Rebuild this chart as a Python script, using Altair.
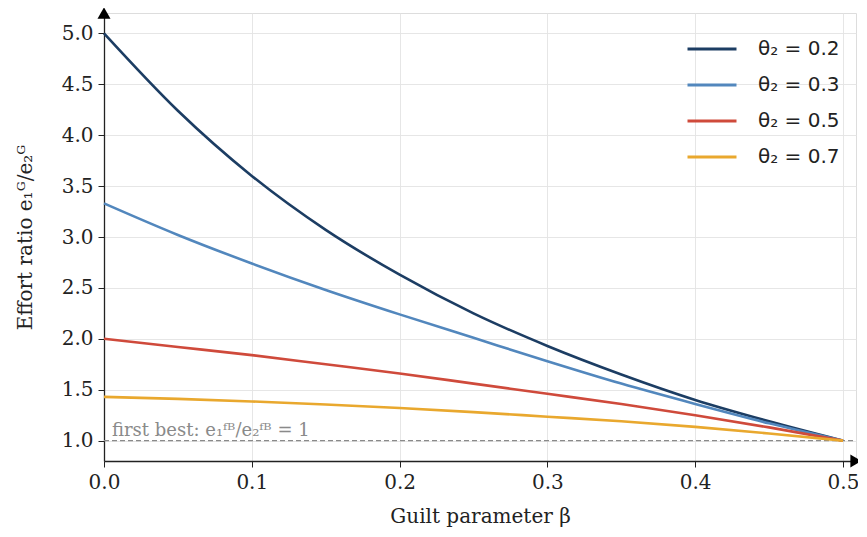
import altair as alt
import pandas as pd

beta = [0.0, 0.05, 0.1, 0.15, 0.2, 0.25, 0.3, 0.35, 0.4, 0.45, 0.5]
r_02 = [5.00, 4.24, 3.60, 3.07, 2.63, 2.25, 1.93, 1.65, 1.40, 1.19, 1.00]
r_03 = [3.33, 3.02, 2.74, 2.48, 2.24, 2.01, 1.78, 1.56, 1.36, 1.17, 1.00]
r_05 = [2.00, 1.92, 1.84, 1.75, 1.66, 1.56, 1.46, 1.36, 1.25, 1.13, 1.00]
r_07 = [1.43, 1.41, 1.385, 1.355, 1.32, 1.28, 1.235, 1.19, 1.135, 1.07, 1.00]

series_labels = ["θ₂ = 0.2", "θ₂ = 0.3", "θ₂ = 0.5", "θ₂ = 0.7"]
series_colors = ["#1c3d63", "#5287bd", "#cf4a3b", "#e9a82e"]
x_ticks = [0.0, 0.1, 0.2, 0.3, 0.4, 0.5]
y_ticks = [1.0, 1.5, 2.0, 2.5, 3.0, 3.5, 4.0, 4.5, 5.0]
x_dom = [0, 0.5088]
y_dom = [0.8, 5.2]

rows = []
for lab, vals in zip(series_labels, [r_02, r_03, r_05, r_07]):
    for b, v in zip(beta, vals):
        rows.append({"beta": b, "ratio": v, "series": lab})
df = pd.DataFrame(rows)

xs = alt.Scale(domain=x_dom, nice=False, zero=False)
ys = alt.Scale(domain=y_dom, nice=False, zero=False)

lines = alt.Chart(df).mark_line(strokeWidth=2.6, interpolate="monotone").encode(
    x=alt.X("beta:Q", scale=xs,
            axis=alt.Axis(values=x_ticks, format=".1f", title="Guilt parameter β",
                          titleFont="DejaVu Serif", titleFontSize=20, titleFontWeight="normal",
                          titleColor="#222", titlePadding=14, labelFlush=False,
                          labelFont="DejaVu Serif", labelFontSize=20, labelColor="#222",
                          labelPadding=5, tickSize=6, tickColor="#222", domainColor="#222",
                          domainWidth=1.3, gridColor="#e3e3e3", gridWidth=0.9)),
    y=alt.Y("ratio:Q", scale=ys,
            axis=alt.Axis(values=y_ticks, format=".1f", title="Effort ratio e₁ᴳ/e₂ᴳ",
                          titleFont="DejaVu Serif", titleFontSize=20, titleFontWeight="normal",
                          titleColor="#222", titlePadding=26, labelFlush=False,
                          labelFont="DejaVu Serif", labelFontSize=20, labelColor="#222",
                          labelPadding=5, tickSize=6, tickColor="#222", domainColor="#222",
                          domainWidth=1.3, gridColor="#e3e3e3", gridWidth=0.9)),
    color=alt.Color("series:N",
                    scale=alt.Scale(domain=series_labels, range=series_colors),
                    legend=alt.Legend(title=None, orient="none", legendX=582, legendY=10,
                                      symbolType="stroke", symbolStrokeWidth=3,
                                      symbolSize=2400, labelFont="DejaVu Sans",
                                      labelFontSize=20, labelColor="#222",
                                      rowPadding=-11, labelOffset=20)),
)

ref_df = pd.DataFrame({"y": [1.0], "x0": [x_dom[0]], "x1": [x_dom[1]],
                       "label": ["first best: e₁ᶠᴮ/e₂ᶠᴮ = 1"]})
ref = alt.Chart(ref_df).mark_rule(color="#8a8a8a", strokeDash=[5, 3], strokeWidth=1.3).encode(
    x=alt.X("x0:Q", scale=xs), x2="x1:Q", y=alt.Y("y:Q", scale=ys))
ref_txt = alt.Chart(ref_df).mark_text(align="left", baseline="bottom", dx=8, dy=-1,
                                      font="DejaVu Serif", fontSize=18, color="#8a8a8a").encode(
    x=alt.X("x0:Q", scale=xs), y=alt.Y("y:Q", scale=ys), text="label:N")

arr_df = pd.DataFrame({"x": [x_dom[0], x_dom[1]], "y": [y_dom[1], y_dom[0]],
                       "shape": ["triangle-up", "triangle-right"]})
arrows = alt.Chart(arr_df).mark_point(filled=True, size=170, color="#000", opacity=1,
                                      clip=False).encode(
    x=alt.X("x:Q", scale=xs), y=alt.Y("y:Q", scale=ys),
    shape=alt.Shape("shape:N", scale=alt.Scale(domain=["triangle-up", "triangle-right"],
                                              range=["triangle-up", "triangle-right"]),
                    legend=None))

chart = alt.layer(ref, ref_txt, lines, arrows).properties(
    width=752, height=448,
    autosize=alt.AutoSizeParams(type="none"),
    padding={"left": 96, "top": 5, "right": 2, "bottom": 68},
).configure_view(stroke=None).configure(background="white")

chart.save("out.html", embed_options={"renderer": "svg", "actions": False})
